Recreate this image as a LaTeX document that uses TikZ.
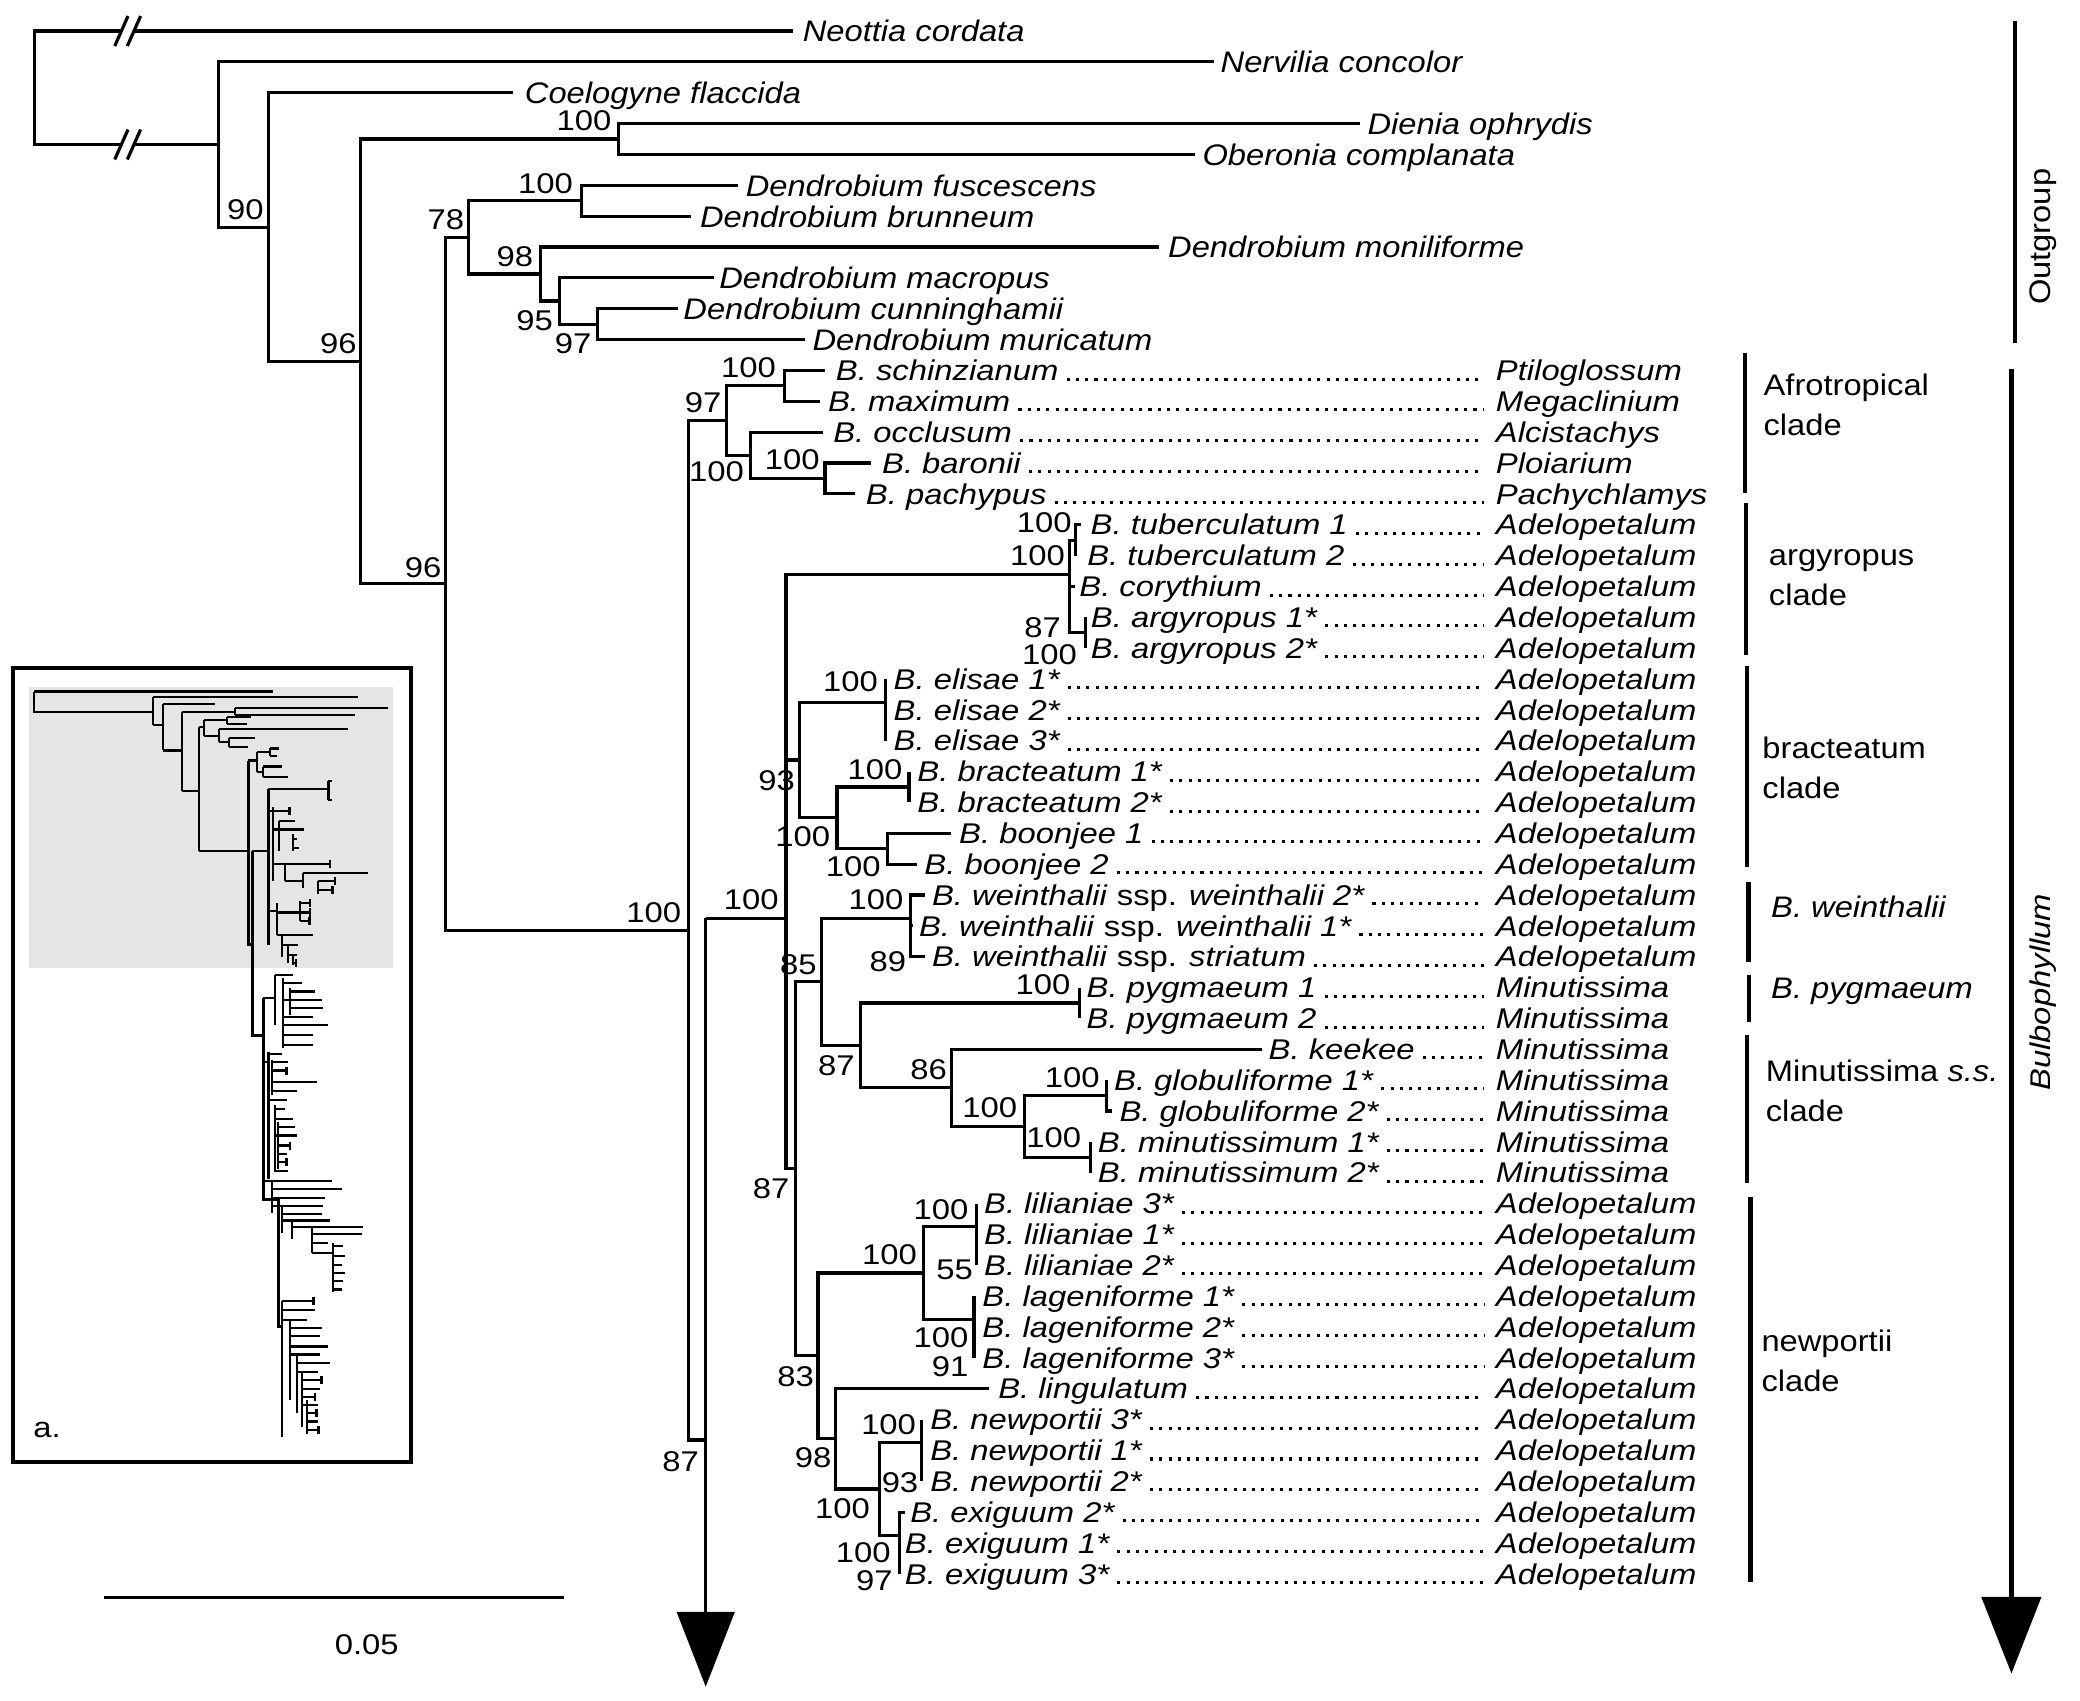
\documentclass[tikz,border=0pt]{standalone}
\usepackage{fontspec}
\setmainfont{Liberation Sans}[FakeStretch=1.15]
\newfontfamily\cladefont{Liberation Sans}[FakeStretch=1.1]
\newcommand\bl[6]{%
  \coordinate (e#1) at (#3,#2);
  \node[sp,anchor=base west] (s#1) at (#4,{#2+7.7}) {#5};
  \node[sp,anchor=base west] (g#1) at (1127.5,{#2+7.7}) {#6};
  \draw[leader] ([xshift=6pt,yshift=1.2pt]s#1.base east) -- ([xshift=-9pt,yshift=1.2pt]g#1.base west);}
\newcommand\ol[5]{%
  \coordinate (e#1) at (#3,#2);
  \node[og,anchor=base west] (s#1) at (#4,{#2+8.2}) {#5};}
\newcommand\bsa[4]{\node[bs,anchor=south east] (#1) at (#2,#3) {#4};}
\newcommand\bsb[4]{\node[bs,anchor=north east] (#1) at (#2,#3) {#4};}
\begin{document}
\begin{tikzpicture}[x=1pt,y=-1pt,
  br/.style={line width=2.4pt},
  barline/.style={line width=3.2pt},
  sp/.style={font=\fontsize{21.5}{25}\selectfont\itshape, inner sep=0pt},
  og/.style={font=\cladefont\fontsize{22.4}{26}\selectfont\itshape, inner sep=0pt},
  bs/.style={font=\fontsize{21.5}{25}\selectfont, inner sep=0pt},
  cl/.style={font=\cladefont\fontsize{22.4}{26}\selectfont, inner sep=0pt, anchor=base west},
  leader/.style={line width=2.3pt, dash pattern=on 2.3pt off 4.7pt},
  brk/.style={line width=2.4pt}]
\fill[white] (0,0) rectangle (1568,1282);
\useasboundingbox (0,0) rectangle (1568,1282);

% ---------------- outgroup leaves
\ol{0}{23.4}{598}{605}{Neottia cordata}
\ol{1}{46.66}{915}{920}{Nervilia concolor}
\ol{2}{69.92}{387}{395.5}{Coelogyne flaccida}
\ol{3}{93.18}{1025}{1030.7}{Dienia ophrydis}
\ol{4}{116.44}{901}{906.3}{Oberonia complanata}
\ol{5}{139.70}{556.5}{562}{Dendrobium fuscescens}
\ol{6}{162.96}{521}{527.5}{Dendrobium brunneum}
\ol{7}{186.22}{874}{880.4}{Dendrobium moniliforme}
\ol{8}{209.48}{538.5}{542}{Dendrobium macropus}
\ol{9}{232.74}{511}{515}{Dendrobium cunninghamii}
\ol{10}{256.00}{607}{612.4}{Dendrobium muricatum}

% ---------------- Bulbophyllum leaves
\bl{11}{279.26}{622}{630}{B. schinzianum}{Ptiloglossum}
\bl{12}{302.52}{617.8}{624}{B. maximum}{Megaclinium}
\bl{13}{325.78}{620.7}{628}{B. occlusum}{Alcistachys}
\bl{14}{349.04}{656.7}{664.8}{B. baronii}{Ploiarium}
\bl{15}{372.30}{644.4}{652.6}{B. pachypus}{Pachychlamys}
\bl{16}{395.56}{815}{822}{B. tuberculatum 1}{Adelopetalum}
\bl{17}{418.82}{811}{819.5}{B. tuberculatum 2}{Adelopetalum}
\bl{18}{442.08}{810}{813.5}{B. corythium}{Adelopetalum}
\bl{19}{465.34}{818}{822.2}{B. argyropus 1*}{Adelopetalum}
\bl{20}{488.60}{818}{822.2}{B. argyropus 2*}{Adelopetalum}
\bl{21}{511.86}{667.7}{673.5}{B. elisae 1*}{Adelopetalum}
\bl{22}{535.12}{667.7}{673.5}{B. elisae 2*}{Adelopetalum}
\bl{23}{558.38}{667.7}{673.5}{B. elisae 3*}{Adelopetalum}
\bl{24}{581.64}{685.3}{691.4}{B. bracteatum 1*}{Adelopetalum}
\bl{25}{604.90}{685.3}{691.4}{B. bracteatum 2*}{Adelopetalum}
\bl{26}{628.16}{717.1}{722.9}{B. boonjee 1}{Adelopetalum}
\bl{27}{651.42}{691.4}{696.7}{B. boonjee 2}{Adelopetalum}
\bl{28}{674.68}{697.5}{702.4}{B. weinthalii \textup{ssp.} weinthalii 2*}{Adelopetalum}
\bl{29}{697.94}{688}{692.6}{B. weinthalii \textup{ssp.} weinthalii 1*}{Adelopetalum}
\bl{30}{721.20}{697.5}{702.4}{B. weinthalii \textup{ssp.} striatum}{Adelopetalum}
\bl{31}{744.46}{814}{819}{B. pygmaeum 1}{Minutissima}
\bl{32}{767.72}{814}{819}{B. pygmaeum 2}{Minutissima}
\bl{33}{790.98}{951}{956.2}{B. keekee}{Minutissima}
\bl{34}{814.24}{834.4}{839.7}{B. globuliforme 1*}{Minutissima}
\bl{35}{837.50}{838.5}{843.8}{B. globuliforme 2*}{Minutissima}
\bl{36}{860.76}{822.2}{827.5}{B. minutissimum 1*}{Minutissima}
\bl{37}{884.02}{822.2}{827.5}{B. minutissimum 2*}{Minutissima}
\bl{38}{907.28}{736.3}{741.7}{B. lilianiae 3*}{Adelopetalum}
\bl{39}{930.54}{736.3}{741.7}{B. lilianiae 1*}{Adelopetalum}
\bl{40}{953.80}{736.3}{741.7}{B. lilianiae 2*}{Adelopetalum}
\bl{41}{977.06}{734.3}{740.4}{B. lageniforme 1*}{Adelopetalum}
\bl{42}{1000.32}{734.3}{740.4}{B. lageniforme 2*}{Adelopetalum}
\bl{43}{1023.58}{734.3}{740.4}{B. lageniforme 3*}{Adelopetalum}
\bl{44}{1046.84}{745.5}{752.4}{B. lingulatum}{Adelopetalum}
\bl{45}{1070.10}{694.7}{701.1}{B. newportii 3*}{Adelopetalum}
\bl{46}{1093.36}{694.7}{701.1}{B. newportii 1*}{Adelopetalum}
\bl{47}{1116.62}{694.7}{701.1}{B. newportii 2*}{Adelopetalum}
\bl{48}{1139.88}{682}{686}{B. exiguum 2*}{Adelopetalum}
\bl{49}{1163.14}{678}{682}{B. exiguum 1*}{Adelopetalum}
\bl{50}{1186.40}{678}{682}{B. exiguum 3*}{Adelopetalum}

% ---------------- internal nodes
\coordinate (nRoot) at (25.9,66.17);
\coordinate (bk1) at (91.5,23.4);
\coordinate (bk2) at (101,23.4);
\coordinate (bk3) at (91.5,108.93);
\coordinate (bk4) at (101,108.93);
\coordinate (nA) at (165,108.93);
\coordinate (nB) at (202.6,171.2);
\coordinate (nC) at (272,272.47);
\coordinate (nD) at (466.2,104.81);
\coordinate (nE) at (336,440.12);
\coordinate (nF) at (353.4,178.96);
\coordinate (nH) at (438.3,151.33);
\coordinate (nI) at (407.3,206.58);
\coordinate (nJ) at (421.8,226.93);
\coordinate (nK) at (450.4,244.37);
\coordinate (nG) at (519,701.28);
\coordinate (nL) at (547.5,317.06);
\coordinate (nM) at (591.3,290.89);
\coordinate (nN) at (565.5,343.23);
\coordinate (nO) at (621.9,360.67);
\coordinate (nP) at (532,692.13);
\coordinate (nPj) at (532,1085.5);
\coordinate (nArr) at (532,1215);
\coordinate (nQ) at (592.5,692.13);
\coordinate (nQ1) at (592.5,503.14);
\coordinate (nR) at (806,433.36);
\coordinate (nR2) at (806,459.53);
\coordinate (nS) at (811,407.19);
\coordinate (nT) at (818,476.97);
\coordinate (nU) at (602.7,572.92);
\coordinate (nEl) at (667.7,529.31);
\coordinate (nAA) at (630.9,616.53);
\coordinate (nBB) at (685.3,593.27);
\coordinate (nCC) at (669,639.79);
\coordinate (nYn) at (599.4,881.12);
\coordinate (nV) at (619,740.1);
\coordinate (nW) at (686.5,692.13);
\coordinate (nX) at (648.5,788.07);
\coordinate (nDD) at (814,756.09);
\coordinate (nEE) at (717.1,820.06);
\coordinate (nFF) at (772.3,849.13);
\coordinate (nGG) at (834.4,825.87);
\coordinate (nHH) at (822.2,872.39);
\coordinate (nZ) at (616.6,1022.13);
\coordinate (nII) at (696.3,959.62);
\coordinate (nNN) at (736.3,924.73);
\coordinate (nOO) at (734.3,994.5);
\coordinate (nJJ) at (630.1,1084.64);
\coordinate (nKK) at (663,1122.44);
\coordinate (nLL) at (694.7,1087.55);
\coordinate (nMM) at (678,1157.33);

% ---------------- branches: outgroup
\draw[br] (nRoot) |- (bk1);
\draw[br] (bk2) -- (e0);
\draw[br] (nRoot) |- (bk3);
\draw[br] (bk4) -- (nA);
\foreach \b in {bk1,bk2,bk3,bk4}{
  \draw[brk] ([xshift=-5pt,yshift=-11.3pt]\b) -- ([xshift=5pt,yshift=11.3pt]\b);}
\draw[br] (nA) |- (e1);  \draw[br] (nA) |- (nB);
\draw[br] (nB) |- (e2);  \draw[br] (nB) |- (nC);
\draw[br] (nC) |- (nD);  \draw[br] (nC) |- (nE);
\draw[br] (nD) |- (e3);  \draw[br] (nD) |- (e4);
\draw[br] (nE) |- (nF);  \draw[br] (nE) |- (nG);
\draw[br] (nF) |- (nH);  \draw[br] (nF) |- (nI);
\draw[br] (nH) |- (e5);  \draw[br] (nH) |- (e6);
\draw[br] (nI) |- (e7);  \draw[br] (nI) |- (nJ);
\draw[br] (nJ) |- (e8);  \draw[br] (nJ) |- (nK);
\draw[br] (nK) |- (e9);  \draw[br] (nK) |- (e10);

% ---------------- branches: Bulbophyllum
\draw[br] (nG) |- (nL);  \draw[br] (nG) |- (nPj);
\draw[br] (nL) |- (nM);  \draw[br] (nL) |- (nN);
\draw[br] (nM) |- (e11); \draw[br] (nM) |- (e12);
\draw[br] (nN) |- (e13); \draw[br] (nN) |- (nO);
\draw[br] (nO) |- (e14); \draw[br] (nO) |- (e15);
\draw[br] (nP) -- (nArr); \draw[br] (nP) -- (nQ);
\draw[br] (nQ) -- (nQ1); \draw[br] (nQ) |- (nYn);
\draw[br] (nQ1) |- (nR); \draw[br] (nQ1) |- (nU);
\draw[br] (nR) |- (nS);  \draw[br] (nR) -- (nR2);
\draw[br] (nR2) |- (e18); \draw[br] (nR2) |- (nT);
\draw[br] (nS) |- (e16); \draw[br] (nS) |- (e17);
\draw[br] (nT) |- (e19); \draw[br] (nT) |- (e20);
\draw[br] (nU) |- (nEl); \draw[br] (nU) |- (nAA);
\draw[br] (nEl) |- (e21); \draw[br] (nEl) |- (e23);
\draw[br] (nAA) |- (nBB); \draw[br] (nAA) |- (nCC);
\draw[br] (nBB) |- (e24); \draw[br] (nBB) |- (e25);
\draw[br] (nCC) |- (e26); \draw[br] (nCC) |- (e27);
\draw[br] (nYn) |- (nV); \draw[br] (nYn) |- (nZ);
\draw[br] (nV) |- (nW);  \draw[br] (nV) |- (nX);
\draw[br] (nW) |- (e28); \draw[br] (nW) |- (e30); \draw[br] (nW |- e29) -- (e29);
\draw[br] (nX) |- (nDD); \draw[br] (nX) |- (nEE);
\draw[br] (nDD) |- (e31); \draw[br] (nDD) |- (e32);
\draw[br] (nEE) |- (e33); \draw[br] (nEE) |- (nFF);
\draw[br] (nFF) |- (nGG); \draw[br] (nFF) |- (nHH);
\draw[br] (nGG) |- (e34); \draw[br] (nGG) |- (e35);
\draw[br] (nHH) |- (e36); \draw[br] (nHH) |- (e37);
\draw[br] (nZ) |- (nII);  \draw[br] (nZ) |- (nJJ);
\draw[br] (nII) |- (nNN); \draw[br] (nII) |- (nOO);
\draw[br] (nNN) |- (e38); \draw[br] (nNN) |- (e40);
\draw[br] (nOO) |- (e41); \draw[br] (nOO) |- (e43);
\draw[br] (nJJ) |- (e44); \draw[br] (nJJ) |- (nKK);
\draw[br] (nKK) |- (nLL); \draw[br] (nKK) |- (nMM);
\draw[br] (nLL) |- (e45); \draw[br] (nLL) |- (e47);
\draw[br] (nMM) |- (e48); \draw[br] (nMM) |- (e50);

% collapsed-remainder arrow
\coordinate (aL) at (510,1215); \coordinate (aR) at (554,1215); \coordinate (aT) at (532,1271.5);
\fill (aL) -- (aR) -- (aT) -- cycle;

% ---------------- support values
\bsa{b01}{199}{166}{90}
\bsa{b02}{269}{267}{96}
\bsa{b03}{461}{98.8}{100}
\bsa{b04}{333}{436}{96}
\bsa{b05}{350}{173.4}{78}
\bsa{b06}{432}{146}{100}
\bsa{b07}{402}{201}{98}
\bsb{b08}{417}{233.7}{95}
\bsb{b09}{446}{251}{97}
\bsa{b10}{513.6}{696}{100}
\bsa{b11}{544}{311.6}{97}
\bsa{b12}{585}{285.2}{100}
\bsb{b13}{561}{348}{100}
\bsa{b14}{618}{354.3}{100}
\bsa{b15}{808}{402}{100}
\bsa{b16}{803}{427}{100}
\bsb{b17}{800}{465}{87}
\bsb{b18}{812}{485.5}{100}
\bsa{b19}{587.2}{686}{100}
\bsa{b20}{662}{522}{100}
\bsb{b21}{599.4}{580.5}{93}
\bsa{b22}{680.4}{588}{100}
\bsb{b23}{626}{623}{100}
\bsb{b24}{664}{645.8}{100}
\bsa{b25}{615.8}{735}{85}
\bsa{b26}{681.2}{686}{100}
\bsb{b27}{683.2}{717.4}{89}
\bsa{b28}{807}{750}{100}
\bsb{b29}{644.4}{795.3}{87}
\bsa{b30}{714}{814}{86}
\bsa{b31}{767}{843.1}{100}
\bsa{b32}{829.1}{820.5}{100}
\bsa{b33}{815.2}{865.7}{100}
\bsb{b34}{595.3}{888}{87}
\bsa{b35}{730.2}{919.7}{100}
\bsa{b36}{691.4}{953.7}{100}
\bsb{b37}{733.5}{949.9}{55}
\bsb{b38}{730.2}{1000.5}{100}
\bsb{b39}{730.2}{1022.5}{91}
\bsb{b40}{613.7}{1030}{83}
\bsb{b41}{627}{1091}{98}
\bsa{b42}{690.7}{1081.8}{100}
\bsb{b43}{692.4}{1110}{93}
\bsb{b44}{656}{1129.5}{100}
\bsb{b45}{671.6}{1163}{100}
\bsb{b46}{673}{1184}{97}
\bsb{b47}{527}{1094}{87}

% ---------------- clade bars and labels
\draw[barline] (1519,15.6) -- (1519,258.8);
\node[font=\cladefont\fontsize{22.4}{26}\selectfont, inner sep=0pt, rotate=90] (tOut) at (1540,178.5) {Outgroup};
\draw[barline] (1516.3,278.5) -- (1516.3,1203.7);
\fill (1493.5,1203.7) -- (1539,1203.7) -- (1516.3,1261.5) -- cycle;
\node[font=\fontsize{21.5}{25}\selectfont\itshape, inner sep=0pt, rotate=90] (tBul) at (1540,748) {Bulbophyllum};

\draw[barline] (1315.3,265.9) -- (1315.3,371.4);
\node[cl] (c1a) at (1329.3,297.8) {Afrotropical};
\node[cl] (c1b) at (1329.3,328) {clade};
\draw[barline] (1316,379.5) -- (1316,493.8);
\node[cl] (c2a) at (1333.3,426) {argyropus};
\node[cl] (c2b) at (1333.3,456.1) {clade};
\draw[barline] (1317,502) -- (1317,653.3);
\node[cl] (c3a) at (1328.4,571.7) {bracteatum};
\node[cl] (c3b) at (1328.4,601.8) {clade};
\draw[barline] (1318,664.6) -- (1318,725);
\node[cl] (c4a) at (1335,691.5) {\itshape B. weinthalii};
\draw[barline] (1318.6,735) -- (1318.6,770.2);
\node[cl] (c5a) at (1335,752.6) {\itshape B. pygmaeum};
\draw[barline] (1317,780.3) -- (1317,891.6);
\node[cl] (c6a) at (1331,815.5) {Minutissima \textit{s.s.}};
\node[cl] (c6b) at (1331,845.6) {clade};
\draw[barline] (1319.5,902.2) -- (1319.5,1192.3);
\node[cl] (c7a) at (1327.7,1019) {newportii};
\node[cl] (c7b) at (1327.7,1049) {clade};

% ---------------- scale bar
\coordinate (sbL) at (78.6,1204); \coordinate (sbR) at (425.3,1204);
\draw[line width=2.4pt] (sbL) -- (sbR);
\node[bs] (sbT) at (276.5,1240) {0.05};

% ---------------- inset
\begin{scope}[shift={(0,490)}, x=0.2513pt, y=-0.5048pt, line width=1.6pt]
\fill[gray!20] (88,55) rectangle (1178,475);
\draw (103,62) -- (820,62);
\draw (103,62) -- (103,92) -- (460,92);
\draw (460,70) -- (460,112);
\draw (460,70) -- (1075,70);
\draw (460,112) -- (490,112);
\draw (490,80) -- (490,150);
\draw (490,80) -- (645,80);
\draw (490,150) -- (545,150);
\draw (545,92) -- (545,210);
\draw (545,92) -- (705,92);
\draw (705,87) -- (705,97);
\draw (705,87) -- (1165,87);
\draw (705,97) -- (1065,97);
\draw (545,210) -- (598,210);
\draw (598,115) -- (598,300);
\draw (598,115) -- (612,115);
\draw (612,105) -- (612,128);
\draw (612,105) -- (680,105);
\draw (680,100) -- (680,110);
\draw (680,100) -- (752,100);
\draw (680,110) -- (742,110);
\draw (612,128) -- (658,128);
\draw (658,118) -- (658,138);
\draw (658,118) -- (1045,118);
\draw (658,138) -- (688,138);
\draw (688,132) -- (688,145);
\draw (688,132) -- (765,132);
\draw (688,145) -- (745,145);
\draw (598,300) -- (745,300);
\draw[line width=2.2pt] (745,165) -- (745,440) -- (757,440);
% afrotropical
\draw (745,165) -- (770,165);
\draw (770,152) -- (770,182);
\draw (770,152) -- (810,152);
\draw (810,147) -- (810,158);
\draw (810,147) -- (838,147);
\draw (810,158) -- (832,158);
\draw (770,182) -- (790,182);
\draw (790,174) -- (790,190);
\draw (790,174) -- (845,174);
\draw (790,190) -- (865,190);
% australian top part
\draw[line width=2.2pt] (757,300) -- (757,575) -- (790,575);
\draw (757,300) -- (805,300);
\draw[line width=2pt] (805,208) -- (805,440);
\draw (805,208) -- (985,208);
\draw[line width=2.2pt] (985,196) -- (985,224);
\draw (985,196) -- (996,196);
\draw (985,224) -- (996,224);
\draw (805,240) -- (820,240);
\draw (820,235) -- (820,345);
\draw (838,255) -- (838,300);
\draw (820,268) -- (838,268);
\draw (880,275) -- (880,300);
\draw (820,320) -- (855,320);
\draw (855,318) -- (855,345);
\draw (910,333) -- (910,355);
\draw (855,345) -- (910,345);
\draw (955,345) -- (955,365);
\draw (805,390) -- (830,390);
\draw (830,378) -- (830,425);
\draw (900,375) -- (900,405);
\draw (845,425) -- (845,458);
\draw (865,440) -- (865,468);
\draw (880,455) -- (880,470);
\foreach \y/\a/\b in {240/820/868, 255/838/885, 268/838/912, 282/880/892,
  296/880/896, 320/855/990, 333/910/1105, 345/955/1005, 358/955/998,
  378/900/930, 392/830/930, 405/900/928, 425/830/938, 440/845/895,
  455/865/890, 468/875/888}
  \draw (\a,\y) -- (\b,\y);
\foreach \x/\y in {868/240, 990/320, 1005/345, 998/358, 930/378, 930/392, 928/405, 888/468}
  \draw[line width=2.2pt] (\x,\y-6) -- (\x,\y+6);
% lower clades
\draw[line width=2.2pt] (790,520) -- (790,820) -- (835,820);
\draw (790,520) -- (825,520);
\draw[line width=1.8pt] (825,485) -- (825,560);
\draw (850,490) -- (850,595);
\draw (870,505) -- (870,545);
\foreach \y/\a/\b in {485/825/880, 497/850/905, 510/870/945, 522/850/965,
  535/870/970, 548/850/940, 560/850/985, 575/850/940, 590/850/940}
  \draw (\a,\y) -- (\b,\y);
\draw (790,615) -- (805,615);
\draw[line width=1.8pt] (805,600) -- (805,790);
\draw (815,612) -- (815,665);
\draw (825,680) -- (825,780);
\draw (835,705) -- (835,775);
\foreach \y/\a/\b in {603/805/845, 615/815/865, 628/815/860, 645/815/950,
  658/815/890, 672/805/860, 685/825/855, 700/825/880, 712/835/885,
  725/825/890, 740/835/870, 752/835/860, 765/835/860, 778/825/865}
  \draw (\a,\y) -- (\b,\y);
\foreach \x/\y in {860/628, 870/740, 860/765}
  \draw[line width=2.2pt] (\x,\y-6) -- (\x,\y+6);
\draw (790,793) -- (995,793);
\draw (815,793) -- (815,840);
\draw (845,830) -- (845,870);
\draw (875,850) -- (875,880);
\draw (935,862) -- (935,900);
\draw (1000,885) -- (1000,958);
\draw (935,900) -- (1000,900);
\foreach \y/\a/\b in {805/815/1025, 818/815/975, 830/815/968, 842/845/965,
  852/845/990, 862/875/1090, 872/935/1085, 885/935/985,
  890/1000/1030, 905/1000/1035, 918/1000/1025, 930/1000/1035,
  942/1000/1030, 955/1000/1025}
  \draw (\a,\y) -- (\b,\y);
\draw[line width=1.8pt] (835,820) -- (835,1010) -- (845,1010);
\draw (845,972) -- (845,1175);
\draw (870,1000) -- (870,1120);
\draw (890,1050) -- (890,1140);
\draw (905,1080) -- (905,1160);
\draw (920,1120) -- (920,1170);
\foreach \y/\a/\b in {972/845/940, 985/845/945, 1000/845/920, 1012/870/965,
  1025/870/960, 1040/870/985, 1052/870/960, 1065/890/990, 1078/890/955,
  1090/905/965, 1103/905/960, 1115/905/945, 1128/905/955, 1140/920/950,
  1152/920/955, 1165/920/955}
  \draw (\a,\y) -- (\b,\y);
\foreach \x/\y in {940/972, 965/1090, 945/1115, 950/1140, 955/1165}
  \draw[line width=2.2pt] (\x,\y-6) -- (\x,\y+6);
\draw[line width=3pt] (40,27) rectangle (1233,1213);
\end{scope}
\node[bs, anchor=base west] (tA) at (25,1084) {a.};
\end{tikzpicture}
\end{document}
